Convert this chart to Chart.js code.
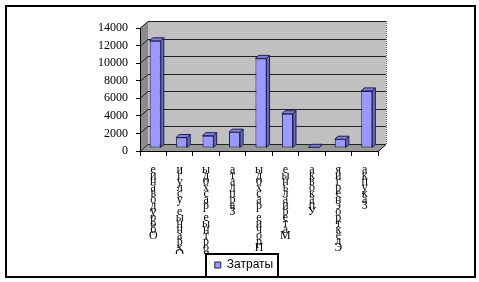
<!DOCTYPE html>
<html><head><meta charset="utf-8">
<script src="https://cdn.jsdelivr.net/npm/chart.js@4"></script>
<style>html,body{margin:0;padding:0;background:#fff;}#wrap{width:479px;height:282px;}</style>
</head><body><div id="wrap"><canvas id="c" width="479" height="282"></canvas></div>
<script>
const categories = ["Оборудование","Охранные услуги","Транспортные расходы","Зарплата","Прочие расходы","Материальные","Упаковка","Электроэнергия","Закупка"];
const costs = [12200,1200,1400,1800,10200,3900,80,1000,6500];
const seriesName = "Затраты";
const yMin = 0, yMax = 14000, yStep = 2000;

const labels = categories.map(s => Array.from(s).reverse());
const DX = 8, DY = -7;   // wall depth
const BX = 3, BY = -3;   // bar depth
const SHIFT_X = 2, SHIFT_Y = -3;

const threeD = {
  id: 'threeD',
  beforeDraw(chart) {
    const ctx = chart.ctx, a = chart.chartArea, y = chart.scales.y;
    ctx.save();
    ctx.fillStyle = '#fff'; ctx.fillRect(0,0,chart.width,chart.height);
    ctx.strokeStyle = '#000'; ctx.lineWidth = 2;
    ctx.strokeRect(6,6,469,271);
    const top = y.getPixelForValue(yMax), bot = y.getPixelForValue(yMin);
    ctx.fillStyle = '#c0c0c0';
    ctx.fillRect(a.left+DX, top+DY, a.right-a.left, bot-top);
    ctx.fillStyle = '#8c8c8c';
    ctx.beginPath(); ctx.moveTo(a.left,bot); ctx.lineTo(a.left,top); ctx.lineTo(a.left+DX,top+DY); ctx.lineTo(a.left+DX,bot+DY); ctx.closePath(); ctx.fill();
    ctx.fillStyle = '#999999';
    ctx.beginPath(); ctx.moveTo(a.left,bot); ctx.lineTo(a.right,bot); ctx.lineTo(a.right+DX,bot+DY); ctx.lineTo(a.left+DX,bot+DY); ctx.closePath(); ctx.fill();
    ctx.strokeStyle = '#000'; ctx.lineWidth = 1;
    ctx.beginPath(); ctx.moveTo(a.right,bot+0.5); ctx.lineTo(a.right+DX,bot+DY+0.5); ctx.stroke();
    ctx.strokeStyle = '#222'; ctx.lineWidth = 1;
    for (let v = yMin; v <= yMax; v += yStep) {
      const py = Math.round(y.getPixelForValue(v)) + 0.5;
      ctx.beginPath();
      ctx.moveTo(a.left, py); ctx.lineTo(a.left+DX, py+DY);
      ctx.lineTo(a.right+DX, py+DY);
      ctx.stroke();
    }
    ctx.setLineDash([1,1]); ctx.strokeStyle = '#666';
    ctx.beginPath(); ctx.moveTo(a.right+DX+0.5, top+DY); ctx.lineTo(a.right+DX+0.5, bot+DY); ctx.stroke();
    ctx.setLineDash([]);
    ctx.restore();
    const s = chart.scales.x;
    if (!s._clipWrapped) {
      const orig = s.drawLabels.bind(s);
      s.drawLabels = function(ar) {
        const c = chart.ctx; c.save(); c.beginPath();
        c.rect(0, s.top, chart.width, s.bottom - s.top + 1); c.clip();
        orig(ar); c.restore();
      };
      s._clipWrapped = true;
    }
  },
  beforeDatasetsDraw(chart) {
    chart.ctx.save();
    chart.ctx.translate(SHIFT_X, SHIFT_Y);
  },
  afterDatasetsDraw(chart) {
    const ctx = chart.ctx;
    const meta = chart.getDatasetMeta(0);
    ctx.lineWidth = 1; ctx.strokeStyle = '#1e1e4a';
    meta.data.forEach(el => {
      const w = el.width, l = el.x - w/2, r = el.x + w/2, t = el.y, b = el.base;
      ctx.fillStyle = '#6a6ac4';
      ctx.beginPath(); ctx.moveTo(r,t); ctx.lineTo(r+BX,t+BY); ctx.lineTo(r+BX,b+BY); ctx.lineTo(r,b); ctx.closePath(); ctx.fill(); ctx.stroke();
      ctx.fillStyle = '#8080e0';
      ctx.beginPath(); ctx.moveTo(l,t); ctx.lineTo(l+BX,t+BY); ctx.lineTo(r+BX,t+BY); ctx.lineTo(r,t); ctx.closePath(); ctx.fill(); ctx.stroke();
    });
    ctx.restore();
  },
  afterDraw(chart) {
    const lg = chart.legend;
    if (!lg || !lg.legendHitBoxes || !lg.legendHitBoxes.length) return;
    const hb = lg.legendHitBoxes[0];
    const ctx = chart.ctx;
    const cy = hb.top + hb.height/2;
    ctx.save(); ctx.strokeStyle = '#000'; ctx.lineWidth = 2;
    ctx.strokeRect(Math.round(hb.left) - 9, Math.round(cy) - 11, Math.round(hb.width) + 14, 23);
    ctx.restore();
  }
};

new Chart(document.getElementById('c'), {
  type: 'bar',
  data: {
    labels: labels,
    datasets: [{
      label: seriesName,
      data: costs,
      backgroundColor: '#9999ff',
      borderColor: '#1e1e4a',
      borderWidth: 1,
      borderSkipped: false,
      categoryPercentage: 1,
      barPercentage: 0.42,
      yAxisID: 'y'
    }]
  },
  options: {
    responsive: false,
    animation: false,
    devicePixelRatio: 1,
    layout: { padding: { left: 9, right: 0, top: 28, bottom: 1 } },
    plugins: {
      legend: {
        position: 'bottom',
        labels: { boxWidth: 6, boxHeight: 6, color: '#000', padding: 5,
          font: { family: 'Liberation Sans', size: 12 } }
      },
      tooltip: { enabled: false }
    },
    scales: {
      x: {
        grid: { display: true, drawOnChartArea: false, offset: true, color: '#000', tickLength: 5 },
        border: { display: true, color: '#000', width: 1 },
        ticks: { maxRotation: 0, minRotation: 0, autoSkip: false, color: '#000', padding: 11,
          font: { family: 'Liberation Serif', size: 12, lineHeight: 0.5 } },
        afterFit(s) { s.height = 103; }
      },
      y: {
        position: 'left',
        min: yMin, max: yMax,
        grid: { display: true, drawOnChartArea: false, color: '#000', tickLength: 4 },
        border: { display: true, color: '#000', width: 1 },
        ticks: { stepSize: yStep, autoSkip: false, color: '#000', padding: 8,
          callback: v => String(v),
          font: { family: 'Liberation Serif', size: 12 } },
        afterFit(s) { s.width = 131; }
      },
      yr: {
        position: 'right',
        display: true,
        grid: { display: false, drawTicks: false },
        border: { display: false },
        ticks: { display: false },
        afterFit(s) { s.width = 101; }
      }
    }
  },
  plugins: [threeD]
});
</script></body></html>
